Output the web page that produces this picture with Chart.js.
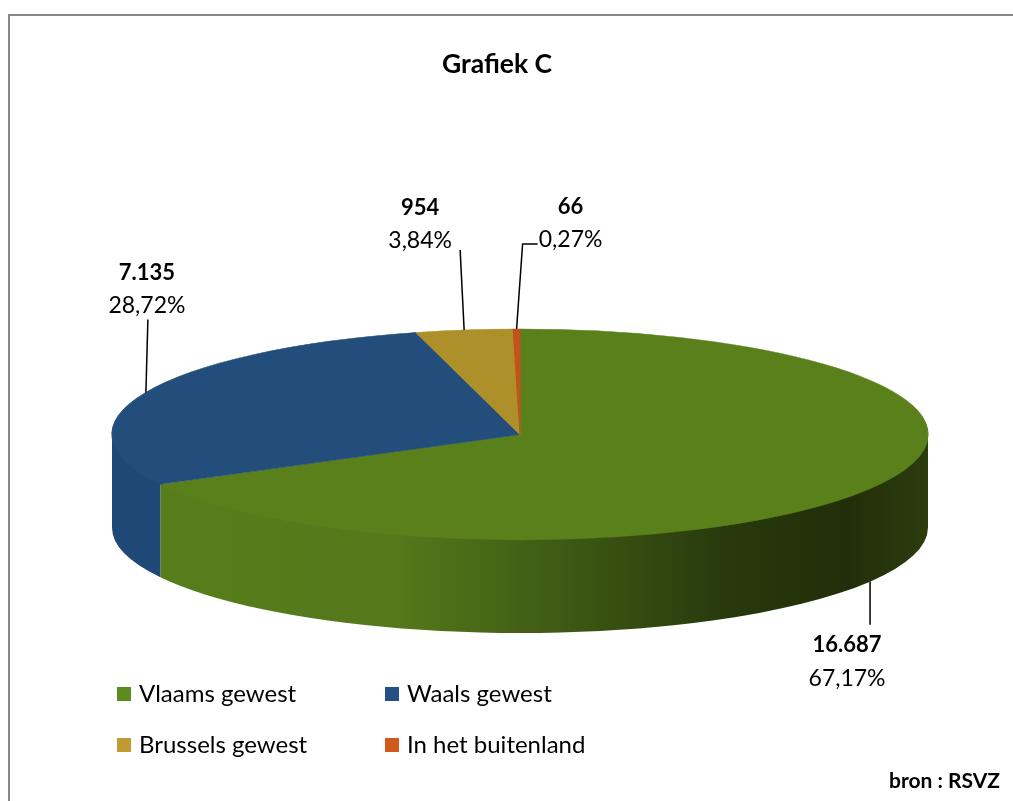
<!DOCTYPE html>
<html>
<head>
<meta charset="utf-8">
<title>Grafiek C</title>
<script src="https://cdn.jsdelivr.net/npm/chart.js@4/dist/chart.umd.min.js"></script>
<style>
  html, body { margin: 0; padding: 0; background: #fff; }
  canvas { display: block; }
</style>
</head>
<body>
<canvas id="pieChart" width="1013" height="801"></canvas>
<script>
// data
const categories = ['Vlaams gewest', 'Waals gewest', 'Brussels gewest', 'In het buitenland'];
const values = [16687, 7135, 954, 66];
const chartTitle = 'Grafiek C';
const sourceText = 'bron : RSVZ';

// colours
const topColors = ['#5A801C', '#234E7C', '#AE902B', '#C2531A'];
const legendColors = ['#5E8B1E', '#255083', '#C09A32', '#D0591B'];
const sideColors = ['#577B1B', '#1F4877', '#9A7F25', '#A84816'];

// 3d look
const CX = 520, CY = 434.5, RX = 408, RY = 105.5, DEPTH = 93;
const FONT = 'Lato, "Open Sans", sans-serif';

// label placement relative to the slice anchor
const leaderEnd = [[0, 43], [2, -73], [-4, -80], [6, -85]];
const leaderElbow = [0, 0, 0, 15];
const labelOffset = [[-23, 80], [1, -103], [-44, -106], [54, -106]];

const total = values.reduce((a, b) => a + b, 0);

function fmtInt(v) {
    return String(v).replace(/\B(?=(\d{3})+(?!\d))/g, '.');
}
function fmtPct(v) {
    return (v / total * 100).toFixed(2).replace('.', ',') + '%';
}

function sideGradient(ctx) {
    const g = ctx.createLinearGradient(CX - RX, 0, CX + RX, 0);
    g.addColorStop(0, 'rgb(88,126,28)');
    g.addColorStop(0.35, 'rgb(84,120,26)');
    g.addColorStop(0.55, 'rgb(62,90,20)');
    g.addColorStop(0.75, 'rgb(40,58,13)');
    g.addColorStop(0.9, 'rgb(34,46,9)');
    g.addColorStop(1, 'rgb(44,60,14)');
    return g;
}

const pie3d = {
    id: 'pie3d',
    beforeDatasetsDraw(chart) {
        const ctx = chart.ctx;
        const arcs = chart.getDatasetMeta(0).data;
        // side walls, only the front half (0..PI) is visible
        arcs.forEach((arc, i) => {
            const a = arc.startAngle, b = arc.endAngle;
            const tw = Math.PI * 2;
            const parts = [[a, b], [a + tw, b + tw], [a - tw, b - tw]];
            parts.forEach(([s, e]) => {
                const s2 = Math.max(s, 0), e2 = Math.min(e, Math.PI);
                if (e2 <= s2) return;
                ctx.save();
                ctx.beginPath();
                ctx.ellipse(CX, CY - 2, RX, RY, 0, s2, e2, false);
                ctx.lineTo(CX + RX * Math.cos(e2), CY + RY * Math.sin(e2) + DEPTH);
                ctx.ellipse(CX, CY + DEPTH, RX, RY, 0, e2, s2, true);
                ctx.closePath();
                ctx.fillStyle = i === 0 ? sideGradient(ctx) : sideColors[i];
                ctx.fill();
                ctx.restore();
            });
        });
        // squash the library's circle into the top ellipse
        const first = arcs[0];
        const r0 = first.outerRadius;
        ctx.save();
        ctx.translate(CX, CY);
        ctx.scale(RX / r0, RY / r0);
        ctx.translate(-first.x, -first.y);
    },
    afterDatasetsDraw(chart) {
        const ctx = chart.ctx;
        ctx.restore();
        const arcs = chart.getDatasetMeta(0).data;

        // leaders + labels
        arcs.forEach((arc, i) => {
            const mid = (arc.startAngle + arc.endAngle) / 2;
            const ax = CX + RX * Math.cos(mid);
            let ay = CY + RY * Math.sin(mid);
            if (Math.sin(mid) > 0) ay += DEPTH;
            const ex = ax + leaderEnd[i][0], ey = ay + leaderEnd[i][1];
            ctx.save();
            ctx.strokeStyle = '#000';
            ctx.lineWidth = 1.5;
            ctx.beginPath();
            ctx.moveTo(ax, ay);
            ctx.lineTo(ex, ey);
            if (leaderElbow[i]) ctx.lineTo(ex + leaderElbow[i], ey);
            ctx.stroke();

            const tx = ax + labelOffset[i][0], ty = ay + labelOffset[i][1];
            ctx.fillStyle = '#000';
            ctx.textAlign = 'center';
            ctx.textBaseline = 'middle';
            ctx.font = 'bold 22px ' + FONT;
            ctx.fillText(fmtInt(values[i]), tx, ty - 16.5);
            ctx.font = '23px ' + FONT;
            ctx.fillText(fmtPct(values[i]), tx, ty + 16.5);
            ctx.restore();
        });

        // legend, two columns
        ctx.save();
        ctx.font = '24px ' + FONT;
        ctx.textAlign = 'left';
        ctx.textBaseline = 'middle';
        const colX = [117, 385], rowY = [694, 745];
        categories.forEach((name, i) => {
            const x = colX[i % 2], y = rowY[Math.floor(i / 2)];
            ctx.fillStyle = legendColors[i];
            ctx.fillRect(x, y - 7, 14, 14);
            ctx.fillStyle = '#000';
            ctx.fillText(name, x + 22, y);
        });

        // source
        ctx.font = 'bold 21px ' + FONT;
        ctx.textAlign = 'right';
        ctx.fillText(sourceText, 1000, 781);

        // frame
        ctx.strokeStyle = '#888';
        ctx.lineWidth = 2;
        ctx.strokeRect(9, 15, 1100, 900);
        ctx.restore();
    }
};

const ctxPie = document.getElementById('pieChart').getContext('2d');

const pieChart = new Chart(ctxPie, {
    type: 'pie',
    data: {
        labels: categories,
        datasets: [{
            label: 'Aantal',
            data: values,
            backgroundColor: topColors,
            borderColor: topColors,
            borderWidth: 1,
            clip: false
        }]
    },
    options: {
        responsive: false,
        devicePixelRatio: 1,
        animation: false,
        layout: { padding: { left: 0, right: 19 } },
        plugins: {
            legend: { display: false },
            tooltip: { enabled: false },
            title: {
                display: true,
                text: chartTitle,
                color: '#000',
                font: { family: FONT, size: 26.5, weight: 'bold' },
                padding: { top: 49, bottom: 10 }
            }
        }
    },
    plugins: [pie3d]
});
</script>
</body>
</html>
